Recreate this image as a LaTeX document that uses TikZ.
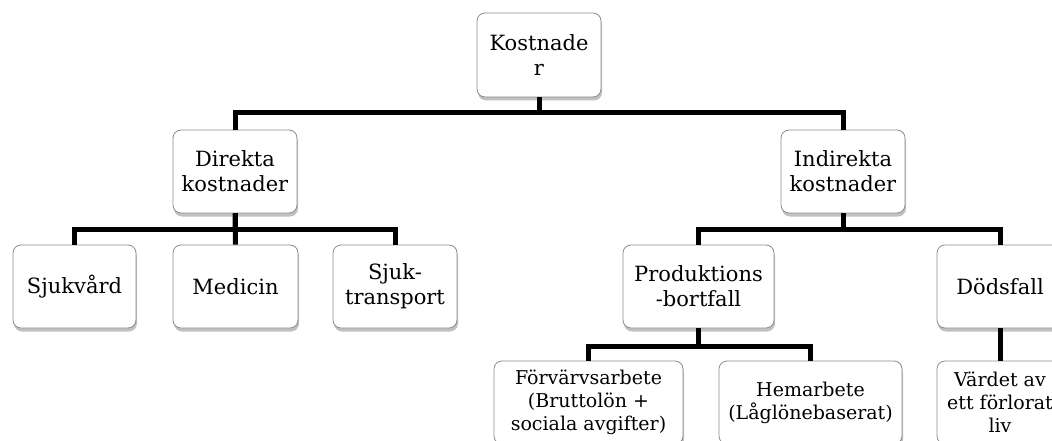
\documentclass[tikz,border=0pt]{standalone}
\usepackage{fontspec}
\setmainfont{DejaVu Serif}
\usetikzlibrary{shadows}
\tikzset{
  box/.style={draw=black!45, line width=0.8pt, rounded corners=8pt, fill=white,
    align=center, inner sep=0pt, minimum height=83pt,
    font=\fontsize{21}{25}\selectfont,
    drop shadow={shadow xshift=1pt, shadow yshift=-3.5pt, opacity=0.35, fill=black!70}},
  smallbox/.style={box, font=\fontsize{19}{23}\selectfont},
  conn/.style={line width=5pt, draw=black}
}
\begin{document}
\begin{tikzpicture}[x=1pt,y=-1pt]
\useasboundingbox (0,0) rectangle (1052,441);
% level bars
\coordinate (b1) at (0,113);
\coordinate (b2) at (0,229);
\coordinate (b3) at (0,346);
% nodes
\node[box, minimum width=124pt, minimum height=84pt] (k) at (539,55) {Kostnade\\r};
\node[box, minimum width=124pt] (dir) at (235,171.5) {Direkta\\kostnader};
\node[box, minimum width=124pt] (ind) at (843,171.5) {Indirekta\\kostnader};
\node[box, minimum width=123pt] (sjv) at (74.5,286.5) {Sjukvård};
\node[box, minimum width=125pt] (med) at (235.5,286.5) {Medicin};
\node[box, minimum width=124pt] (stp) at (395,286.5) {Sjuk-\\transport};
\node[box, minimum width=151pt] (prod) at (698.5,286.5) {Produktions\\-bortfall};
\node[box, minimum width=126pt] (dod) at (1000,286.5) {Dödsfall};
\node[smallbox, minimum width=189pt] (forv) at (588.5,402.5) {Förvärvsarbete\\(Bruttolön +\\sociala avgifter)};
\node[smallbox, minimum width=183pt] (hem) at (810.5,402.5) {Hemarbete\\(Låglönebaserat)};
\node[smallbox, minimum width=126pt] (vard) at (1000,402.5) {Värdet av\\ett förlorat\\liv};
% connectors
\draw[conn] (k.south) -- (k.south |- b1) -| (dir.north);
\draw[conn] (k.south) -- (k.south |- b1) -| (ind.north);
\draw[conn] (dir.south) -- (dir.south |- b2) -| (sjv.north);
\draw[conn] (dir.south) -- (med.north);
\draw[conn] (dir.south) -- (dir.south |- b2) -| (stp.north);
\draw[conn] (ind.south) -- (ind.south |- b2) -| (prod.north);
\draw[conn] (ind.south) -- (ind.south |- b2) -| (dod.north);
\draw[conn] (prod.south) -- (prod.south |- b3) -| (forv.north);
\draw[conn] (prod.south) -- (prod.south |- b3) -| (hem.north);
\draw[conn] (dod.south) -- (vard.north);
\end{tikzpicture}
\end{document}
